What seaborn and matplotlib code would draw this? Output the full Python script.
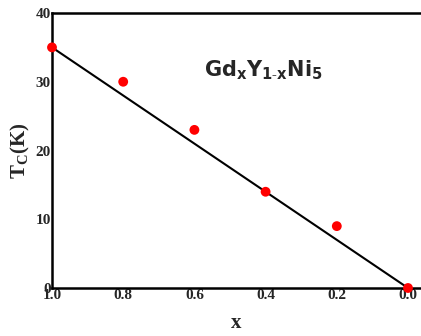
import numpy as np
import pandas as pd
import seaborn as sns
from matplotlib import pyplot as plt
from matplotlib.ticker import MultipleLocator

# measured T_C of Gd_x Y_{1-x} Ni5
x_vals = [1.0, 0.8, 0.6, 0.4, 0.2, 0.0]
tc_vals = [35.0, 30.0, 23.0, 14.0, 9.0, 0.0]
# straight line drawn through the end points
fit_x = [1.0, 0.0]
fit_tc = [35.0, 0.0]

sns.set_style("white")
plt.rcParams['font.family'] = ['Liberation Serif', 'DejaVu Serif']
plt.rcParams['mathtext.fontset'] = 'custom'
plt.rcParams['mathtext.rm'] = 'Liberation Serif:bold'
plt.rcParams['mathtext.bf'] = 'Liberation Serif:bold'
plt.rcParams['mathtext.sf'] = 'DejaVu Sans:bold'

df = pd.DataFrame({"x": x_vals, "tc": tc_vals})
fit = pd.DataFrame({"x": fit_x, "tc": fit_tc})

fig = plt.figure(figsize=(4.21, 3.36), dpi=100)
ax = fig.add_axes([52 / 421, 48 / 336, 369 / 421, 275 / 336])

sns.lineplot(data=fit, x="x", y="tc", ax=ax, color="black", lw=1.5)
sns.scatterplot(data=df, x="x", y="tc", ax=ax, color="red", s=50,
                edgecolor="none", zorder=5, clip_on=False)

ax.set_xlim(1.0, -0.0365)
ax.set_ylim(0, 40)
ax.set_xticks([1.0, 0.8, 0.6, 0.4, 0.2, 0.0])
ax.set_xticklabels(["1.0", "0.8", "0.6", "0.4", "0.2", "0.0"])
ax.xaxis.set_minor_locator(MultipleLocator(0.1))
ax.set_yticks([0, 10, 20, 30, 40])
ax.yaxis.set_minor_locator(MultipleLocator(5))
ax.tick_params(direction="in", length=3, width=1, pad=1, labelsize=11)
ax.tick_params(which="minor", direction="in", length=2, width=0.8)
for lab in ax.get_xticklabels() + ax.get_yticklabels():
    lab.set_fontweight("bold")

for s in ["left", "bottom", "top"]:
    ax.spines[s].set_linewidth(1.8)
    ax.spines[s].set_color("black")
ax.spines["right"].set_visible(False)

ax.set_xlabel("x", fontsize=15, fontweight="bold", labelpad=8)
ax.set_ylabel(r"T$_\mathrm{C}$(K)", fontsize=15, fontweight="bold", labelpad=2)

ax.text(0.405, 31.7, r"$\mathsf{Gd_xY_{1\text{-}x}Ni_5}$",
        fontsize=15, ha="center", va="center")

fig.savefig("out.png", dpi=100)
